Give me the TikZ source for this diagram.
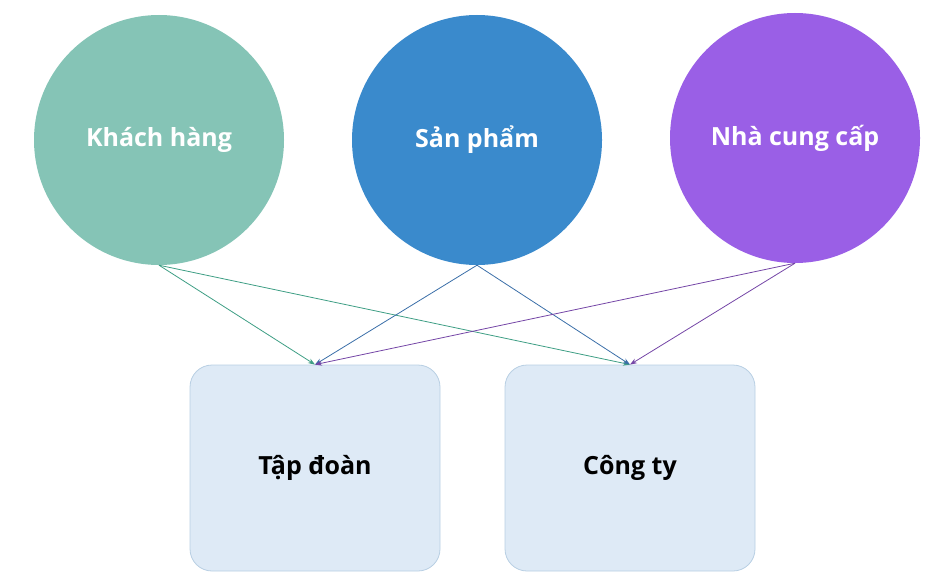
\documentclass[tikz,border=0pt]{standalone}
\usepackage{fontspec}
\setmainfont{Open Sans}
\usetikzlibrary{arrows.meta}
\definecolor{khcol}{HTML}{85C4B6}
\definecolor{spcol}{HTML}{3A8ACC}
\definecolor{nccol}{HTML}{9A5FE6}
\definecolor{khline}{HTML}{3E9E84}
\definecolor{spline}{HTML}{3A6EA8}
\definecolor{ncline}{HTML}{7445A6}
\definecolor{boxfill}{HTML}{DEEAF6}
\definecolor{boxdraw}{HTML}{B8CFE3}
\tikzset{
  topic/.style={circle, minimum size=250pt, inner sep=0pt, text=white, font=\fontsize{25}{30}\selectfont\bfseries},
  unit/.style={rectangle, rounded corners=22pt, fill=boxfill, draw=boxdraw, thick, minimum width=250pt, minimum height=206pt, font=\fontsize{25}{30}\selectfont\bfseries},
  link/.style={-{Stealth[length=7pt,width=5pt]}, thick}
}
\begin{document}
\begin{tikzpicture}[x=1pt, y=-1pt]
\useasboundingbox (0,0) rectangle (936,583);

% circles
\node[topic, fill=khcol] (khach) at (159,140) {Khách hàng};
\node[topic, fill=spcol] (sanpham) at (477,140) {Sản phẩm};
\node[topic, fill=nccol] (ncc) at (795,138) {Nhà cung cấp};

% boxes
\node[unit] (tapdoan) at (315,468) {Tập đoàn};
\node[unit] (congty) at (630,468) {Công ty};

% links
\draw[link, khline] (khach.south) -- (tapdoan.north);
\draw[link, khline] (khach.south) -- (congty.north);
\draw[link, spline] (sanpham.south) -- (tapdoan.north);
\draw[link, spline] (sanpham.south) -- (congty.north);
\draw[link, ncline] (ncc.south) -- (tapdoan.north);
\draw[link, ncline] (ncc.south) -- (congty.north);

\end{tikzpicture}
\end{document}
